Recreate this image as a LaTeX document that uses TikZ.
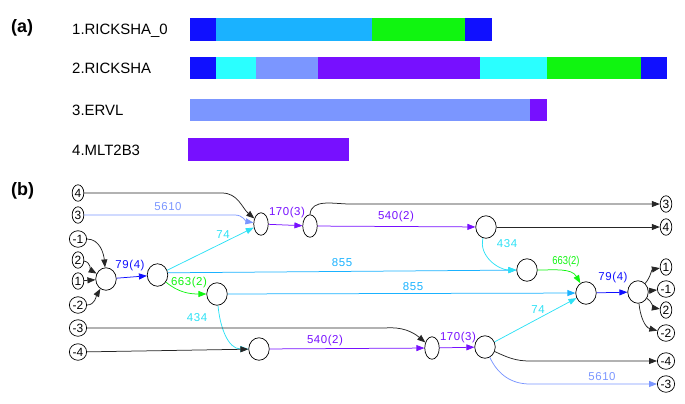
\documentclass[tikz,border=0pt]{standalone}
\usepackage{fontspec}
\setmainfont{Liberation Sans}
\newfontfamily\spacedfont[LetterSpace=5]{Liberation Sans}
\usetikzlibrary{arrows.meta,shapes.geometric}
\definecolor{cDark}{RGB}{16,16,255}
\definecolor{cSky}{RGB}{26,178,255}
\definecolor{cGreen}{RGB}{16,245,16}
\definecolor{cCyan}{RGB}{42,255,255}
\definecolor{cCyanL}{RGB}{45,225,245}
\definecolor{cPeri}{RGB}{123,150,255}
\definecolor{cPurp}{RGB}{119,16,255}
\begin{document}
\begin{tikzpicture}[x=1bp,y=1bp,
  leaf/.style={draw, ellipse, line width=0.7bp, inner xsep=0.8bp, inner ysep=1.5bp,
    minimum width=11bp, minimum height=16.5bp, font=\fontsize{12}{12}\selectfont},
  junc/.style={draw, ellipse, line width=0.7bp, minimum width=20.5bp, minimum height=22.5bp, inner sep=0pt},
  slim/.style={junc, minimum width=14.5bp},
  link/.style={-{Triangle[length=8bp,width=6bp]}, line width=0.75bp, black!85},
  lab/.style={inner sep=0pt, font=\spacedfont\fontsize{11.5}{12}\selectfont},
  bartext/.style={anchor=base west, inner sep=0pt, font=\fontsize{15}{18}\selectfont}]
\useasboundingbox (0,0) rectangle (685,-403);
% (a) bars
\node[anchor=west, inner sep=0pt, font=\bfseries\fontsize{18}{18}\selectfont] (pa) at (11,-28) {(a)};
\node[bartext] (t1) at (72,-34) {1.RICKSHA\_0};
\fill[cDark] (190,-18.3) rectangle (216,-40.7);
\fill[cSky] (216,-18.3) rectangle (372,-40.7);
\fill[cGreen] (372,-18.3) rectangle (465,-40.7);
\fill[cDark] (465,-18.3) rectangle (492,-40.7);
\node[bartext] (t2) at (72,-73.5) {2.RICKSHA};
\fill[cDark] (190,-56.7) rectangle (216,-79.3);
\fill[cCyan] (216,-56.7) rectangle (256,-79.3);
\fill[cPeri] (256,-56.7) rectangle (318,-79.3);
\fill[cPurp] (318,-56.7) rectangle (480,-79.3);
\fill[cCyan] (480,-56.7) rectangle (547,-79.3);
\fill[cGreen] (547,-56.7) rectangle (641,-79.3);
\fill[cDark] (641,-56.7) rectangle (667,-79.3);
\node[bartext] (t3) at (72,-115.5) {3.ERVL};
\fill[cPeri] (190,-99) rectangle (530,-120.7);
\fill[cPurp] (530,-99) rectangle (547,-120.7);
\node[bartext] (t4) at (72,-155) {4.MLT2B3};
\fill[cPurp] (188,-138) rectangle (349,-161);
% (b) graph
\node[anchor=west, inner sep=0pt, font=\bfseries\fontsize{18}{18}\selectfont] (pb) at (11,-191) {(b)};
% left ends
\node[leaf] (l4) at (78,-193) {4};
\node[leaf] (l3) at (78,-215) {3};
\node[leaf] (lm1) at (78,-239) {-1};
\node[leaf] (l2) at (78,-260) {2};
\node[leaf] (l1) at (78,-281) {1};
\node[leaf] (lm2) at (78,-305) {-2};
\node[leaf] (lm3) at (78,-328) {-3};
\node[leaf] (lm4) at (78,-352) {-4};
% right ends
\node[leaf] (r3) at (666,-204) {3};
\node[leaf] (r4) at (666,-227) {4};
\node[leaf] (r1) at (666,-267) {1};
\node[leaf] (rm1) at (666,-289) {-1};
\node[leaf] (r2) at (666,-310) {2};
\node[leaf] (rm2) at (666,-333) {-2};
\node[leaf] (rm4) at (666,-361) {-4};
\node[leaf] (rm3) at (666,-384) {-3};
% junctions
\node[junc] (a) at (106,-279) {};
\node[junc] (b) at (157.5,-275) {};
\node[junc] (c) at (217,-294) {};
\node[slim] (d) at (261,-224) {};
\node[junc] (e) at (259,-349) {};
\node[slim] (f) at (310,-226) {};
\node[junc] (g) at (486,-227) {};
\node[junc] (h) at (527,-270) {};
\node[slim] (i) at (432,-348) {};
\node[junc] (j) at (485,-347) {};
\node[junc] (k) at (586,-293) {};
\node[junc] (l) at (638,-292) {};
% connectors
\draw[link] (l4) -- (222,-193) to[out=0,in=140] (d);
\draw[link, cPeri] (l3) -- (235,-215) to[out=0,in=170] (d);
\draw[link] (lm1) to[out=0,in=95] (a);
\draw[link] (l2) to[out=-10,in=150] (a);
\draw[link] (l1) -- (a);
\draw[link] (lm2) to[out=0,in=-120] (a);
\draw[link, cDark] (a) -- (b);
\draw[link, cCyanL] (b) -- (d);
\draw[link, cSky] (b.12) -- (h);
\draw[link, cGreen] (b) to[out=-40,in=180] (c);
\draw[link, cSky] (c) -- (k);
\draw[link, cCyanL] (c) to[out=-85,in=180] (e);
\draw[link] (lm4) -- (e);
\draw[link] (lm3) -- (385,-328) to[out=5,in=140] (i);
\draw[link, cPurp] (e) -- (i);
\draw[link, cPurp] (i) -- (j);
\draw[link, cPurp] (d) -- (f);
\draw[link, cPurp] (f) -- (g);
\draw[link] (f.north) to[out=85,in=180] (350,-204) -- (r3);
\draw[link] (g) -- (r4);
\draw[link, cCyanL] (g) to[out=-105,in=180] (h);
\draw[link, cGreen] (h) to[out=0,in=120] (k);
\draw[link, cCyanL] (j) -- (k);
\draw[link, cDark] (k) -- (l);
\draw[link] (l) to[out=50,in=190] (r1);
\draw[link] (l) -- (rm1);
\draw[link] (l) to[out=-35,in=170] (r2);
\draw[link] (l) to[out=-85,in=165] (rm2);
\draw[link] (j) to[out=-25,in=180] (530,-361) -- (rm4);
\draw[link, cPeri] (j) to[out=-65,in=180] (530,-384) -- (rm3);
% connector labels
\node[lab, cPeri] (w1) at (168,-207) {5610};
\node[lab, cPurp] (w2) at (287,-213) {170(3)};
\node[lab, cPurp] (w3) at (396,-217) {540(2)};
\node[lab, cCyanL] (w4) at (223,-235) {74};
\node[lab, cDark] (w5) at (130,-266) {79(4)};
\node[lab, cSky] (w6) at (342,-263) {855};
\node[lab, cGreen] (w7) at (189,-283) {663(2)};
\node[lab, cSky] (w8) at (413,-287) {855};
\node[lab, cCyanL] (w9) at (197,-318) {434};
\node[lab, cPurp] (w10) at (325,-341) {540(2)};
\node[lab, cPurp] (w11) at (458,-338) {170(3)};
\node[lab, cCyanL] (w12) at (507,-244) {434};
\node[lab, cGreen, font=\fontsize{11.5}{12}\selectfont] (w13) at (566,-262) {\scalebox{0.82}[1]{663(2)}};
\node[lab, cCyanL] (w14) at (538,-310) {74};
\node[lab, cDark] (w15) at (613,-278) {79(4)};
\node[lab, cPeri] (w16) at (602,-377) {5610};
\end{tikzpicture}
\end{document}
